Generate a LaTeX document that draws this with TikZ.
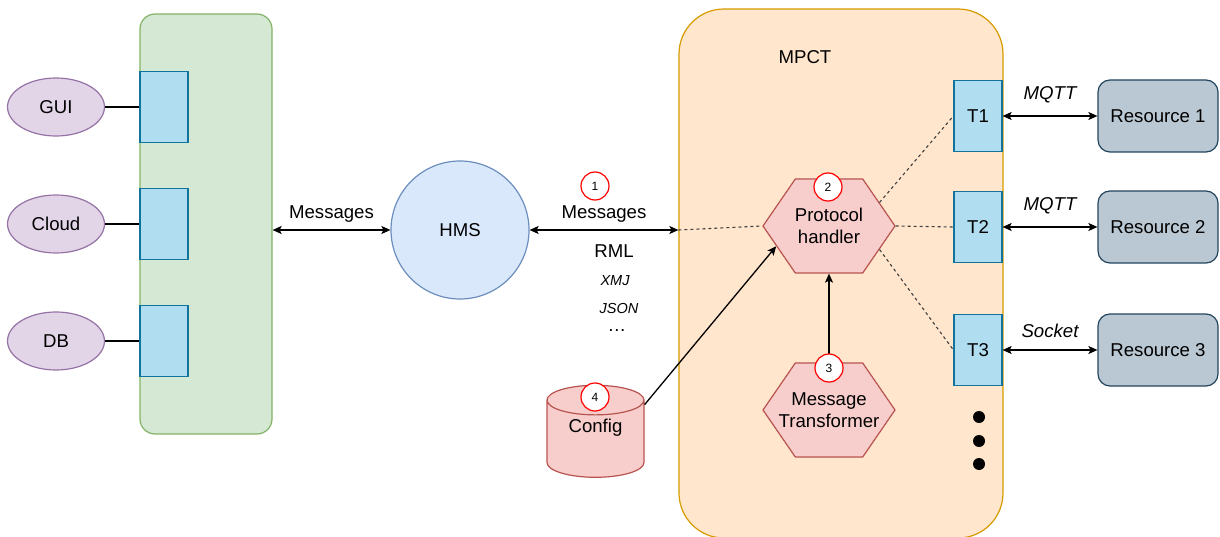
\documentclass[tikz,border=0pt]{standalone}
\usepackage{fontspec}
\setmainfont{Liberation Sans}
\usepackage{tikz}
\usetikzlibrary{arrows.meta,positioning,shapes.geometric,shapes.symbols,calc}
\definecolor{busfill}{HTML}{D5E8D4}\definecolor{busline}{HTML}{82B366}
\definecolor{clifill}{HTML}{E1D5E7}\definecolor{cliline}{HTML}{9673A6}
\definecolor{portfill}{HTML}{B1DDF0}\definecolor{portline}{HTML}{10739E}
\definecolor{hmsfill}{HTML}{DAE8FC}\definecolor{hmsline}{HTML}{6C8EBF}
\definecolor{mpctfill}{HTML}{FFE6CC}\definecolor{mpctline}{HTML}{D79B00}
\definecolor{hexfill}{HTML}{F8CECC}\definecolor{hexline}{HTML}{B85450}
\definecolor{resfill}{HTML}{BAC8D3}\definecolor{resline}{HTML}{23445D}
\tikzset{
  arch/bus/.style={draw=busline, fill=busfill, line width=1.2pt, rounded corners=15pt, minimum width=132pt, minimum height=420pt},
  arch/port/.style={draw=portline, fill=portfill, line width=1.2pt, inner sep=0pt, minimum width=48pt, minimum height=71pt},
  arch/client/.style={draw=cliline, fill=clifill, line width=1.2pt, ellipse, inner sep=0pt, minimum width=97pt, minimum height=58pt},
  arch/hub/.style={draw=hmsline, fill=hmsfill, line width=1.2pt, circle, minimum size=138pt},
  arch/frame/.style={draw=mpctline, fill=mpctfill, line width=1.2pt, rounded corners=45pt, minimum width=324pt, minimum height=529pt},
  arch/hex/.style={draw=hexline, fill=hexfill, line width=1.2pt, signal, signal to=east and west, signal pointer angle=111, inner sep=0pt, minimum width=132pt, minimum height=94pt},
  arch/hextext/.style={label={[align=center]center:#1}},
  arch/store/.style={draw=hexline, fill=hexfill, line width=1.2pt, cylinder, shape border rotate=90, aspect=0.55, inner sep=0pt, minimum width=97pt, minimum height=92pt},
  arch/res/.style={draw=resline, fill=resfill, line width=1.2pt, rounded corners=12pt, minimum width=120pt, minimum height=72pt},
  arch/num/.style={draw=red, fill=white, line width=1.2pt, circle, inner sep=0pt, minimum size=28pt, font=\fontsize{12}{14}\selectfont},
  arch/line/.style={line width=1.3pt},
  arch/both/.style={arch/line, {Stealth[length=9pt,width=8pt,inset=2pt]}-{Stealth[length=9pt,width=8pt,inset=2pt]}},
  arch/to/.style={arch/line, -{Stealth[length=9pt,width=8pt,inset=2pt]}},
  arch/link/.style={line width=1.1pt, dash pattern=on 3pt off 3pt, draw=black!75},
  arch/fmt/.style={font=\fontsize{14.5}{16}\selectfont\itshape, inner sep=0pt}
}

\begin{document}
\begin{tikzpicture}[
  x=1pt, y=-1pt,
  font=\fontsize{18.6}{22}\selectfont,
  lbl/.style={inner sep=0pt}
]
\useasboundingbox (0,0) rectangle (1220,537);

\node[arch/bus] (bus) at (206,224) {};
\node[arch/port] (port1) at (164,107) {};
\node[arch/port] (port2) at (164,224) {};
\node[arch/port] (port3) at (164,341) {};
\node[arch/client] (gui) at (56,107) {GUI};
\node[arch/client] (cloud) at (56,224) {Cloud};
\node[arch/client] (db) at (56,341) {DB};
\draw[arch/line] (gui) -- (port1);
\draw[arch/line] (cloud) -- (port2);
\draw[arch/line] (db) -- (port3);

\node[arch/hub] (hms) at (460,230) {HMS};
\draw[arch/both] (bus.east |- hms.west) -- node[above=7pt, lbl] (msgleft) {Messages} (hms.west);

\node[arch/frame] (mpct) at (841,273.5) {};
\node[lbl] (mpcttitle) at (805,57) {MPCT};

\draw[arch/both] (hms.east) -- node[above=7pt, lbl] (msgright) {Messages} (mpct.west |- hms.east);
\node[arch/num] (n1) at (595,186) {1};
\node[lbl] (rml) at (614,251) {RML};
\node[arch/fmt] (xmj) at (615,281) {XMJ};
\node[arch/fmt] (json) at (619,309) {JSON};
\node[lbl] (more) at (617,331) {\dots};

\node[arch/hex, arch/hextext={Protocol\\handler}] (proto) at (829,226) {};
\node[arch/hex, arch/hextext={Message\\Transformer}] (trans) at (829,410) {};
\node[arch/store] (config) at (595.5,439) {\phantom{Config}};
\node[lbl] (configtext) at (595.5,428) {Config};

\node[arch/port] (t1) at (978,116) {T1};
\node[arch/port] (t2) at (978,227) {T2};
\node[arch/port] (t3) at (978,350) {T3};
\node[arch/res] (r1) at (1158,116) {Resource 1};
\node[arch/res] (r2) at (1158,227) {Resource 2};
\node[arch/res] (r3) at (1158,350) {Resource 3};

\draw[arch/link] (mpct.west |- hms.east) -- (proto.west);
\draw[arch/link] (proto.25) -- (t1.west);
\draw[arch/link] (proto.east) -- (t2.west);
\draw[arch/link] (proto.-25) -- (t3.west);
\draw[arch/to] (trans.north) -- (proto.south);
\draw[arch/to] (config.35) -- (proto.201);

\node[arch/num] (n2) at (828,187) {2};
\node[arch/num] (n3) at (829,368) {3};
\node[arch/num] (n4) at (595,397) {4};

\draw[arch/both] (t1.east) -- node[above=12pt, arch/fmt, font=\fontsize{18.6}{22}\selectfont\itshape] (p1) {MQTT} (r1.west);
\draw[arch/both] (t2.east) -- node[above=12pt, arch/fmt, font=\fontsize{18.6}{22}\selectfont\itshape] (p2) {MQTT} (r2.west);
\draw[arch/both] (t3.east) -- node[above=12pt, arch/fmt, font=\fontsize{18.6}{22}\selectfont\itshape] (p3) {Socket} (r3.west);

\foreach \y/\k in {417/a,441/b,464/c}
  \fill (979,\y) circle (6pt) coordinate (dot\k);

\end{tikzpicture}
\end{document}
